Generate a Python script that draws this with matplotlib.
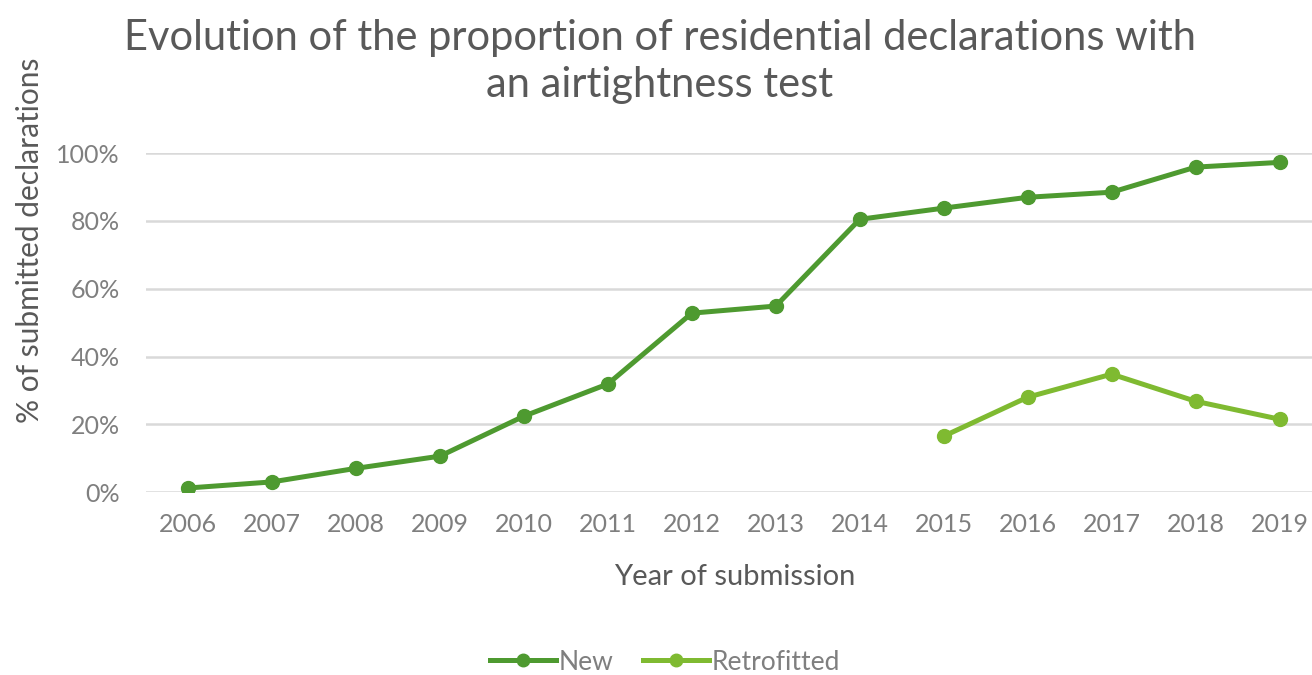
import numpy as np
import matplotlib.pyplot as plt

years = ["2006", "2007", "2008", "2009", "2010", "2011", "2012",
         "2013", "2014", "2015", "2016", "2017", "2018", "2019"]
new_pct = [1.2, 3.0, 7.0, 10.6, 22.4, 31.9, 52.8, 54.9, 80.5, 83.8, 87.0, 88.5, 95.9, 97.3]
retro_years = ["2015", "2016", "2017", "2018", "2019"]
retro_pct = [16.5, 28.0, 34.8, 26.8, 21.5]

plt.rcParams["font.family"] = ["Lato", "DejaVu Sans"]

fig = plt.figure(figsize=(13.12, 6.75), dpi=100)
ax = fig.add_axes([0.1113, 0.271, 0.896, 0.502])

x_new = np.arange(len(years))
x_retro = [years.index(y) for y in retro_years]

ax.plot(x_new, new_pct, color="#4e9a30", lw=3.6, marker="o", ms=10, label="New", zorder=3)
ax.plot(x_retro, retro_pct, color="#7fba31", lw=3.6, marker="o", ms=10, label="Retrofitted", zorder=3)

ax.set_xlim(-0.5, len(years) - 0.5)
ax.set_ylim(0, 100)
ax.set_yticks(np.arange(0, 101, 20))
ax.set_yticklabels([f"{v}%" for v in range(0, 101, 20)])
ax.set_xticks(x_new)
ax.set_xticklabels(years)
ax.grid(axis="y", color="#d9d9d9", lw=1.8, zorder=0)
ax.set_axisbelow(True)
for s in ax.spines.values():
    s.set_visible(False)
ax.tick_params(length=0, colors="#7f7f7f", labelsize=18)
ax.tick_params(axis="x", pad=15)
ax.tick_params(axis="y", pad=19)

fig.text(0.503, 0.909, "Evolution of the proportion of residential declarations with\nan airtightness test",
         ha="center", va="center", fontsize=30, color="#595959", linespacing=1.27)
fig.text(0.023, 0.644, "% of submitted declarations", rotation=90, ha="center", va="center",
         fontsize=21.5, color="#595959")
fig.text(0.56, 0.145, "Year of submission", ha="center", va="center", fontsize=21, color="#595959")

fig.legend(loc="center", bbox_to_anchor=(0.507, 0.019), ncol=2, frameon=False,
           fontsize=19, labelcolor="#7f7f7f", handlelength=2.5, handletextpad=0.1,
           columnspacing=1.1, markerscale=0.9)

fig.savefig("out.png", dpi=100)
